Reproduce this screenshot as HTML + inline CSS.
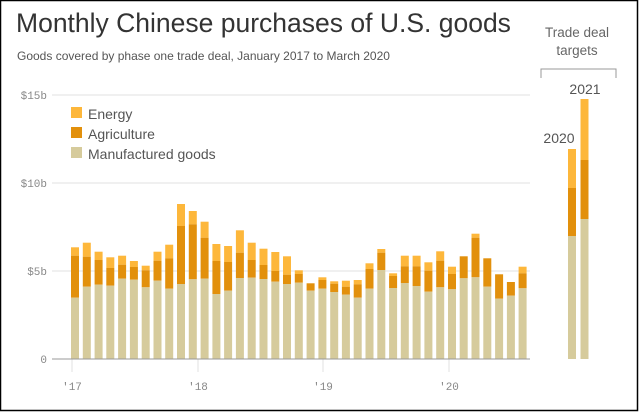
<!DOCTYPE html>
<html><head><meta charset="utf-8"><style>
html,body{margin:0;padding:0;background:#fff}
body{width:640px;height:412px;overflow:hidden;position:relative}
</style></head><body>
<svg width="640" height="412" xmlns="http://www.w3.org/2000/svg" style="position:absolute;left:0;top:0">
<rect x="0.5" y="0.5" width="637" height="410" fill="#fff" stroke="#000" stroke-width="1.5"/>
<text x="16" y="32" font-family="Liberation Sans, sans-serif" font-size="26.5" fill="#333">Monthly Chinese purchases of U.S. goods</text>
<text x="17" y="60" font-family="Liberation Sans, sans-serif" font-size="12" fill="#555">Goods covered by phase one trade deal, January 2017 to March 2020</text>
<text x="577" y="37" text-anchor="middle" font-family="Liberation Sans, sans-serif" font-size="13.5" fill="#666">Trade deal</text>
<text x="577" y="55" text-anchor="middle" font-family="Liberation Sans, sans-serif" font-size="13.5" fill="#666">targets</text>
<path d="M541 78 V69 H616 V78" fill="none" stroke="#999" stroke-width="1"/>
<g stroke="#e6e6e6" stroke-width="1.2">
<line x1="52" y1="95" x2="530" y2="95"/><line x1="52" y1="183" x2="530" y2="183"/><line x1="52" y1="271" x2="530" y2="271"/>
<line x1="72" y1="359" x2="72" y2="372"/><line x1="198" y1="359" x2="198" y2="372"/><line x1="323" y1="359" x2="323" y2="372"/><line x1="449" y1="359" x2="449" y2="372"/>
</g>
<g font-family="Liberation Mono, monospace" font-size="11" fill="#888" text-anchor="end">
<text x="47" y="99">$15b</text><text x="47" y="187">$10b</text><text x="47" y="275">$5b</text><text x="47" y="363">0</text>
</g>
<g font-family="Liberation Mono, monospace" font-size="11" fill="#888" text-anchor="middle">
<text x="72" y="390">'17</text><text x="198" y="390">'18</text><text x="323" y="390">'19</text><text x="449" y="390">'20</text>
</g>
<g font-family="Liberation Sans, sans-serif" font-size="14" fill="#555">
<rect x="71" y="107" width="11" height="11" fill="#fdb73b"/><text x="88" y="119">Energy</text>
<rect x="71" y="127" width="11" height="11" fill="#e2900c"/><text x="88" y="139">Agriculture</text>
<rect x="71" y="147" width="11" height="11" fill="#d6cb9c"/><text x="88" y="159">Manufactured goods</text>
</g>
<g id="bars"></g>
<line x1="52" y1="359" x2="530" y2="359" stroke="#999" stroke-width="1"/>
<g font-family="Liberation Sans, sans-serif" font-size="14" fill="#555">
<text x="559" y="143" text-anchor="middle">2020</text><text x="585" y="94" text-anchor="middle">2021</text>
</g>
<rect x="568" y="149" width="8" height="39" fill="#fdb73b"/><rect x="568" y="188" width="8" height="48" fill="#e2900c"/><rect x="568" y="236" width="8" height="123" fill="#d6cb9c"/>
<rect x="580.5" y="99" width="8" height="61" fill="#fdb73b"/><rect x="580.5" y="160" width="8" height="59" fill="#e2900c"/><rect x="580.5" y="219" width="8" height="140" fill="#d6cb9c"/>
</svg>
<script>
var d=[[247.3,255.7,297.7],[242.7,256.7,286.7],[251.7,260,284.7],[257.3,268,285.7],[255.7,264.7,278.7],[261,267,279.7],[265.7,270.3,287.3],[251.7,260.7,280.7],[244.7,258.3,288.7],[204,226,284],[211,224.3,279.3],[221.7,237.7,278.7],[244,261,294],[246,262,290.7],[230.3,252.7,278],[242.7,260,277.7],[248.7,265,279],[252,271,281.7],[256.3,274.7,284],[270.3,274,282.7],[283.3,283.3,290.7],[277.3,280,288.7],[281.3,283.7,292],[280.7,286.7,294.7],[280,284.3,297.7],[263.3,269,288.7],[249,252.7,270],[273.3,276,288],[255.7,266.3,283],[255.7,266.3,286],[262.3,270.7,291.7],[251.3,260.7,287.3],[266.7,274,289.3],[256.3,256.3,278.3],[233.7,237.7,277.3],[258.3,258.3,286.7],[274.3,274.3,298.7],[282,282,295.7],[266.7,273.3,288.3]];
var s='';d.forEach(function(b,i){var x=(71+i*11.78).toFixed(1);
s+='<rect x="'+x+'" y="'+b[0]+'" width="8" height="'+(b[1]-b[0])+'" fill="#fdb73b"/>';
s+='<rect x="'+x+'" y="'+b[1]+'" width="8" height="'+(b[2]-b[1])+'" fill="#e2900c"/>';
s+='<rect x="'+x+'" y="'+b[2]+'" width="8" height="'+(359-b[2])+'" fill="#d6cb9c"/>';});
document.getElementById('bars').innerHTML=s;
</script>
</body></html>
